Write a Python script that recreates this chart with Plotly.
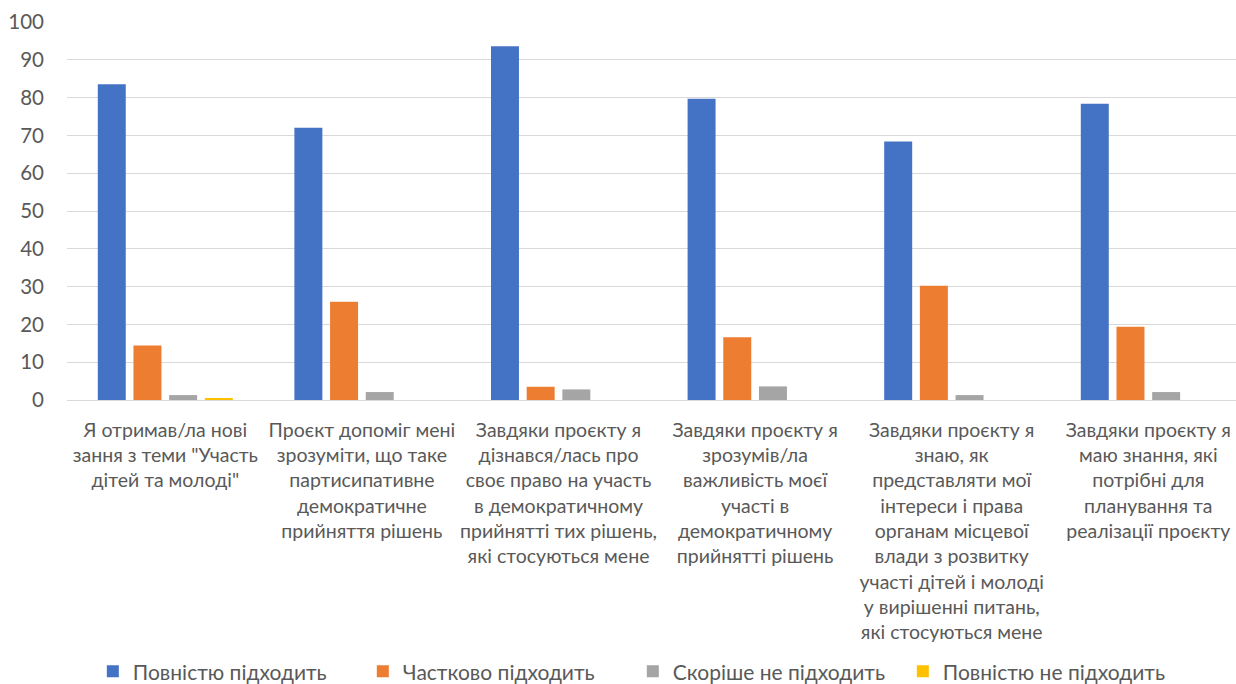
import plotly.graph_objects as go

categories = [
    "Я отримав/ла нові<br>зання з теми \"Участь<br>дітей та молоді\"",
    "Проєкт допоміг мені<br>зрозуміти, що таке<br>партисипативне<br>демократичне<br>прийняття рішень",
    "Завдяки проєкту я<br>дізнався/лась про<br>своє право на участь<br>в демократичному<br>прийнятті тих рішень,<br>які стосуються мене",
    "Завдяки проєкту я<br>зрозумів/ла<br>важливість моєї<br>участі в<br>демократичному<br>прийнятті рішень",
    "Завдяки проєкту я<br>знаю, як<br>представляти мої<br>інтереси і права<br>органам місцевої<br>влади з розвитку<br>участі дітей і молоді<br>у вирішенні питань,<br>які стосуються мене",
    "Завдяки проєкту я<br>маю знання, які<br>потрібні для<br>планування та<br>реалізації проєкту",
]

series_names = ["Повністю підходить", "Частково підходить", "Скоріше не підходить", "Повністю не підходить"]
fully_fits = [83.5, 72.0, 93.6, 79.7, 68.4, 78.4]
partly_fits = [14.4, 26.0, 3.5, 16.6, 30.2, 19.4]
rather_not = [1.3, 2.1, 2.8, 3.6, 1.3, 2.1]
not_at_all = [0.5, 0, 0, 0, 0, 0]
colors = ["#4472C4", "#ED7D31", "#A5A5A5", "#FFC000"]

FONT = "Lato, 'Open Sans', sans-serif"

fig = go.Figure()
for name, vals, col in zip(series_names, [fully_fits, partly_fits, rather_not, not_at_all], colors):
    fig.add_trace(go.Bar(x=list(range(len(categories))), y=vals, name=name, marker_color=col,
                         marker_line_width=0))

fig.update_layout(
    width=1236, height=684,
    margin=dict(l=67, r=0, t=22, b=284, autoexpand=False),
    paper_bgcolor="white", plot_bgcolor="white",
    barmode="group", bargap=0.274, bargroupgap=0.216,
    font=dict(family=FONT, size=19, color="#595959"),
    xaxis=dict(
        tickmode="array", tickvals=list(range(len(categories))), ticktext=categories,
        range=[-0.5, 5.446], showgrid=False, showline=False, ticks="",
        tickangle=0, tickfont=dict(size=19.5, color="#595959"),
        automargin=False, ticklabelstandoff=16,
    ),
    yaxis=dict(
        range=[0, 100], dtick=10, showgrid=True, gridcolor="#D9D9D9", gridwidth=1,
        zeroline=True, zerolinecolor="#D9D9D9", zerolinewidth=1,
        showline=False, ticks="", ticklabelstandoff=22, automargin=False,
        tickfont=dict(size=20.5, color="#595959"),
    ),
    legend=dict(
        orientation="h", xref="container", yref="container",
        x=0.512, xanchor="center", y=0.018, yanchor="middle",
        font=dict(size=21, color="#595959"), traceorder="normal",
        entrywidth=225, entrywidthmode="pixels",
    ),
)

fig.write_html("out.html", config={"displayModeBar": False},
               post_script="document.body.style.margin='0';")
